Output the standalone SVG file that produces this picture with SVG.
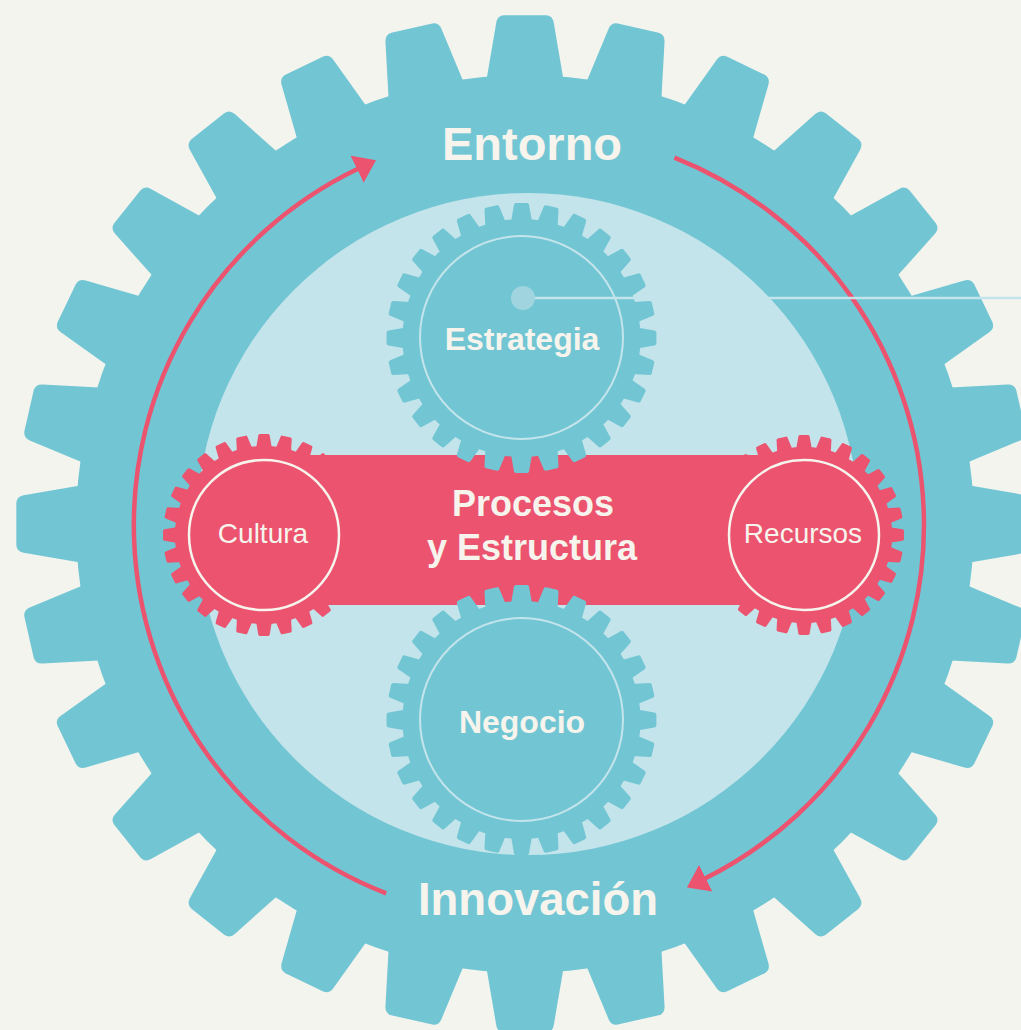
<svg xmlns="http://www.w3.org/2000/svg" xmlns:xlink="http://www.w3.org/1999/xlink" width="1021" height="1030" viewBox="0 0 1021 1030">
<style>
.teal{fill:#72C6D4}
.light{fill:#C4E4EB}
.pink{fill:#EB536F}
.lbl{font-family:"Liberation Sans",Arial,sans-serif;fill:#F6F4EC;text-anchor:middle}
.b{font-weight:bold}
.ring-l{fill:none;stroke:#C4E4EB;stroke-width:2}
.ring-c{fill:none;stroke:#F6F4EC;stroke-width:2.5}
.arc{fill:none;stroke:#EB536F;stroke-width:4.5}
</style>
<defs>
<path id="tooth" d="M-39.9,-436 L-28.7,-501.4 Q-27.5,-508.3 -21,-508.7 L21,-508.7 Q27.5,-508.3 28.7,-501.4 L39.9,-436 Z"/>
<g id="gear">
<circle r="449"/>
<use xlink:href="#tooth" href="#tooth"/>
<use xlink:href="#tooth" href="#tooth" transform="rotate(12.857)"/>
<use xlink:href="#tooth" href="#tooth" transform="rotate(25.714)"/>
<use xlink:href="#tooth" href="#tooth" transform="rotate(38.571)"/>
<use xlink:href="#tooth" href="#tooth" transform="rotate(51.429)"/>
<use xlink:href="#tooth" href="#tooth" transform="rotate(64.286)"/>
<use xlink:href="#tooth" href="#tooth" transform="rotate(77.143)"/>
<use xlink:href="#tooth" href="#tooth" transform="rotate(90)"/>
<use xlink:href="#tooth" href="#tooth" transform="rotate(102.857)"/>
<use xlink:href="#tooth" href="#tooth" transform="rotate(115.714)"/>
<use xlink:href="#tooth" href="#tooth" transform="rotate(128.571)"/>
<use xlink:href="#tooth" href="#tooth" transform="rotate(141.429)"/>
<use xlink:href="#tooth" href="#tooth" transform="rotate(154.286)"/>
<use xlink:href="#tooth" href="#tooth" transform="rotate(167.143)"/>
<use xlink:href="#tooth" href="#tooth" transform="rotate(180)"/>
<use xlink:href="#tooth" href="#tooth" transform="rotate(192.857)"/>
<use xlink:href="#tooth" href="#tooth" transform="rotate(205.714)"/>
<use xlink:href="#tooth" href="#tooth" transform="rotate(218.571)"/>
<use xlink:href="#tooth" href="#tooth" transform="rotate(231.429)"/>
<use xlink:href="#tooth" href="#tooth" transform="rotate(244.286)"/>
<use xlink:href="#tooth" href="#tooth" transform="rotate(257.143)"/>
<use xlink:href="#tooth" href="#tooth" transform="rotate(270)"/>
<use xlink:href="#tooth" href="#tooth" transform="rotate(282.857)"/>
<use xlink:href="#tooth" href="#tooth" transform="rotate(295.714)"/>
<use xlink:href="#tooth" href="#tooth" transform="rotate(308.571)"/>
<use xlink:href="#tooth" href="#tooth" transform="rotate(321.429)"/>
<use xlink:href="#tooth" href="#tooth" transform="rotate(334.286)"/>
<use xlink:href="#tooth" href="#tooth" transform="rotate(347.143)"/>
</g>
<marker id="ah" markerUnits="userSpaceOnUse" viewBox="0 -16 22 32" markerWidth="22" markerHeight="32" refX="1" refY="0" orient="auto">
<path d="M0,-15 L21,0 L0,15 Z" fill="#EB536F"/>
</marker>
</defs>
<rect width="1021" height="1030" fill="#F3F4EE"/>
<g id="big-gear">
<use xlink:href="#gear" href="#gear" class="teal" transform="translate(525,524)"/>
<circle class="light" cx="528" cy="524" r="331"/>
</g>
<g id="entorno"><text class="lbl b" x="532" y="160" font-size="47">Entorno</text></g>
<g id="innovacion"><text class="lbl b" x="538" y="915" font-size="45.5">Innovación</text></g>
<g id="procesos">
<rect class="pink" x="264" y="455" width="540" height="150"/>
<text class="lbl b" x="533" y="516" font-size="36">Procesos</text>
<text class="lbl b" x="532" y="560" font-size="36">y Estructura</text>
</g>
<g id="cultura">
<use xlink:href="#gear" href="#gear" class="pink" transform="translate(264,535) scale(0.1985)"/>
<circle class="ring-c" cx="264" cy="535" r="75"/>
<text class="lbl" x="263" y="543" font-size="28">Cultura</text>
</g>
<g id="recursos">
<use xlink:href="#gear" href="#gear" class="pink" transform="translate(804,535) scale(0.1965)"/>
<circle class="ring-c" cx="804" cy="535" r="75"/>
<text class="lbl" x="803" y="543" font-size="28">Recursos</text>
</g>
<g id="estrategia">
<use xlink:href="#gear" href="#gear" class="teal" transform="translate(521.5,338) scale(0.2652)"/>
<circle class="ring-l" cx="521.5" cy="337.5" r="101.5"/>
<text class="lbl b" x="522" y="350" font-size="32">Estrategia</text>
</g>
<g id="negocio">
<use xlink:href="#gear" href="#gear" class="teal" transform="translate(521.5,720) scale(0.2652)"/>
<circle class="ring-l" cx="521.5" cy="719.5" r="101.5"/>
<text class="lbl b" x="522" y="733" font-size="32">Negocio</text>
</g>
<g id="connectors">
<path class="arc" d="M386.2,893.3 A395,395 0 0 1 358,168.8" marker-end="url(#ah)"/>
<path class="arc" d="M674.4,157.7 A395,395 0 0 1 704.9,878.6" marker-end="url(#ah)"/>
<line x1="535" y1="298" x2="1021" y2="298" stroke="#C4E4EB" stroke-width="2.5"/>
<circle cx="523" cy="298" r="12" fill="#A0D5DF"/>
</g>
</svg>
